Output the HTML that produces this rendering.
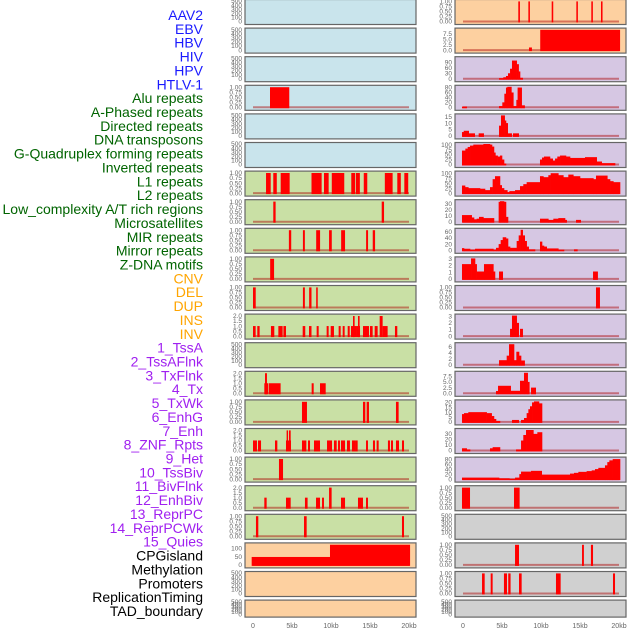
<!DOCTYPE html>
<html><head><meta charset="utf-8"><style>
html,body{margin:0;padding:0;background:#fff;}
svg{display:block;font-family:"Liberation Sans",sans-serif;}
</style></head><body>
<svg id="chart" width="630" height="630" viewBox="0 0 630 630" xmlns="http://www.w3.org/2000/svg"></svg>
<script>
// ---- data ----
const trackLabels = ["AAV2","EBV","HBV","HIV","HPV","HTLV-1","Alu repeats","A-Phased repeats","Directed repeats","DNA transposons","G-Quadruplex forming repeats","Inverted repeats","L1 repeats","L2 repeats","Low_complexity A/T rich regions","Microsatellites","MIR repeats","Mirror repeats","Z-DNA motifs","CNV","DEL","DUP","INS","INV","1_TssA","2_TssAFlnk","3_TxFlnk","4_Tx","5_TxWk","6_EnhG","7_Enh","8_ZNF_Rpts","9_Het","10_TssBiv","11_BivFlnk","12_EnhBiv","13_ReprPC","14_ReprPCWk","15_Quies","CPGisland","Methylation","Promoters","ReplicationTiming","TAD_boundary"];
const labelGroups = ["virus","virus","virus","virus","virus","virus","rep","rep","rep","rep","rep","rep","rep","rep","rep","rep","rep","rep","rep","sv","sv","sv","sv","sv","cs","cs","cs","cs","cs","cs","cs","cs","cs","cs","cs","cs","cs","cs","cs","oth","oth","oth","oth","oth"];
const xTicks = [0,5,10,15,20];
const xTickLabels = ["0","5kb","10kb","15kb","20kb"];

// interval tracks: [start_kb, end_kb, value]
const barsA3 = [[2.18,4.65,1]];
const barsA6 = [[1.67,2.27,1],[2.6,3.05,1],[3.55,4.7,1],[7.5,8.8,1],[9.1,9.7,1],[10.1,11.7,1],[12.6,13.1,1],[13.2,13.7,1],[14.2,14.65,1],[16.9,17.9,1],[18.5,18.95,1],[19.4,19.9,1]];
const barsA7 = [[2.6,2.9,1],[16.5,16.8,1]];
const barsA8 = [[4.6,4.9,1],[6.4,6.65,1],[8.1,8.6,1],[9.75,10.1,1],[11.3,11.8,1],[14.5,14.75,1],[15.35,15.65,1]];
const barsA9 = [[2.2,2.7,1]];
const barsA10 = [[0,0.35,1],[6.4,6.65,1],[7.2,7.5,1],[8.1,8.3,1]];
const barsA11 = [[0,0.34,1],[0.55,0.85,1],[2.3,2.73,1],[3.25,3.8,1],[3.9,4.23,1],[6.37,6.7,1],[7.18,7.5,1],[8.16,8.42,1],[9.44,9.7,1],[9.96,10.38,1],[10.98,11.24,1],[11.5,11.75,1],[12.14,12.4,1],[12.56,13.33,1],[12.82,13.03,2],[13.33,13.72,1],[13.46,13.67,2],[14.1,14.87,1],[15,15.34,1],[15.6,15.98,1],[16.24,16.62,2],[16.62,17.26,1],[18.2,18.5,1]];
const barsA13 = [[1.45,1.97,1],[1.54,1.79,2],[2.05,3.54,1],[7.52,7.78,1],[8.59,9.32,1]];
const barsA14 = [[6.28,6.92,1],[14.1,14.4,1],[14.57,14.87,1],[18.33,18.67,1]];
const barsA15 = [[0,0.51,1],[0.64,1.03,1],[2.82,3.12,1],[4.23,4.87,1],[4.31,4.49,2],[4.61,4.83,2],[6.28,6.84,1],[7.05,7.31,1],[7.82,8.59,1],[9.49,10.13,1],[10.38,10.73,1],[10.9,11.15,1],[11.28,11.8,1],[12.05,12.43,1],[12.69,13.2,1],[13.2,13.42,1],[14.49,14.74,1],[15.38,15.64,1],[15.85,16.11,1],[17.3,17.56,1],[17.69,17.95,1],[18.33,18.72,1],[19.1,19.36,1]];
const barsA16 = [[3.33,3.85,1]];
const barsA17 = [[1.45,1.75,1],[4.23,4.83,1],[6.66,7.0,1],[8.08,8.59,1],[8.85,9.1,1],[9.75,10.08,2],[11.28,11.8,1],[13.46,14.1,1],[14.49,14.74,1]];
const barsA18 = [[0.38,0.68,1],[6.54,6.88,1],[19.1,19.36,1]];
const barsB0 = [[7.09,7.3,1],[8.38,8.58,1],[11.37,11.57,1],[14.53,14.73,1],[16.45,16.65,1],[17.69,17.89,1]];
const barsB10 = [[17.05,17.56,1]];
const barsB17 = [[-0.13,0.9,1],[6.54,7.26,1]];
const barsB19 = [[6.67,7.18,1],[15.26,15.5,1],[16.4,16.67,1]];
const barsB20 = [[2.44,2.78,1],[3.55,3.8,1],[5.25,5.64,1],[5.8,6.1,1],[7.18,7.52,1],[11.92,12.52,1],[19.23,19.49,1]];

// step tracks: [start_kb, value] (value holds until next start)
const stepsA19 = [[-0.17,48],[9.87,122],[20.1,0]];
const stepsB1 = [[8.46,1.2],[8.8,0],[9.9,9.3],[20.1,0]];
const stepsB2 = [[4.62,3],[5.17,8],[5.51,15],[5.77,30],[6.03,55],[6.28,100],[6.88,80],[7.13,40],[7.31,5],[7.65,0]];
const stepsB3 = [[-0.13,3],[0.47,0],[4.62,5],[5.04,20],[5.3,55],[5.51,80],[5.68,85],[6.2,60],[6.45,5],[6.84,30],[7.0,80],[7.52,8],[7.9,0]];
const stepsB4 = [[-0.13,3],[0.09,4],[0.73,2],[1.5,0],[2.01,2],[2.65,0],[4.62,8],[4.87,17],[5.34,12],[5.51,10],[5.73,2],[6.24,0],[6.41,2],[7.14,0]];
const stepsB5 = [[-0.13,70],[0.3,80],[0.6,88],[0.9,95],[1.32,100],[2.61,105],[3.46,100],[3.72,90],[3.97,60],[4.15,45],[4.44,40],[4.74,45],[5.0,25],[5.26,5],[5.51,0],[9.87,25],[10.13,35],[10.38,40],[11.15,30],[11.5,20],[11.8,30],[12.09,40],[12.44,45],[13.2,40],[13.72,33],[15.64,37],[17.14,15],[17.78,7],[19.49,0]];
const stepsB6 = [[-0.13,38],[0.26,30],[0.68,25],[2.18,22],[2.82,15],[3.46,30],[3.8,70],[4.1,85],[4.74,40],[4.96,25],[5.26,15],[5.68,5],[5.94,10],[6.67,15],[7.31,35],[7.73,45],[8.16,55],[9.87,85],[10.3,80],[10.94,90],[11.24,100],[12.22,90],[12.86,80],[13.5,93],[14.14,85],[15.0,75],[16.71,70],[17.05,88],[18.5,70],[18.85,60],[19.27,55],[20.13,0]];
const stepsB7 = [[-0.13,11],[1.11,7],[1.41,4],[1.75,5],[2.05,8],[2.61,6],[3.97,0],[4.57,33],[4.74,37],[5.26,33],[5.51,8],[5.77,0],[9.87,5],[10.94,3],[11.58,5],[12.22,6],[13.08,3],[13.29,0],[14.49,3],[15.09,0]];
const stepsB8 = [[-0.13,7],[0.13,5],[0.9,2],[1.54,5],[3.89,2],[4.23,8],[4.57,20],[4.83,33],[5.09,42],[5.51,38],[5.77,12],[6.03,8],[6.88,30],[7.14,48],[7.39,68],[7.65,48],[7.91,30],[8.16,12],[8.42,3],[9.23,0],[9.87,28],[10.13,15],[10.38,12],[10.73,6],[12.22,2],[12.95,0],[14.23,3],[14.66,0]];
const stepsB9 = [[-0.13,2.2],[1.03,3.1],[1.54,2.2],[1.75,1.1],[2.69,2.2],[3.89,1.1],[4.1,0],[4.62,1.1],[5.09,0],[16.67,1.1],[17.26,0]];
const stepsB11 = [[6.03,1.1],[6.28,3.2],[6.88,2],[7.14,0],[7.31,1.1],[7.65,0]];
const stepsB12 = [[4.62,1.5],[5.6,3],[5.9,7],[6.54,1.5],[6.84,4.3],[7.18,3],[7.44,1.4],[7.9,0]];
const stepsB13 = [[4.23,1],[4.49,3.3],[6.11,1.1],[7.31,5.5],[7.82,9],[8.29,5],[8.5,0],[8.72,2.5],[9.32,0]];
const stepsB14 = [[-0.13,8],[0.13,9],[0.68,10],[3.03,9],[3.67,6],[3.97,3],[4.23,1],[4.74,0],[6.28,2],[7.14,0],[7.44,2],[7.82,4],[8.16,9],[8.38,13],[8.59,16],[8.85,20],[9.1,21],[9.74,19],[10.13,0]];
const stepsB15 = [[-0.13,4],[0.47,2],[0.9,0],[3.46,4],[3.8,6],[4.74,0],[6.8,2],[7.44,18],[7.73,28],[8.08,37],[9.02,30],[9.53,33],[10.13,0]];
const stepsB16 = [[-0.13,6],[4.62,3],[5.94,1],[6.67,6],[7.22,20],[7.44,30],[8.72,33],[10.09,18],[13.72,22],[14.23,25],[14.79,29],[15.85,32],[16.5,35],[16.92,40],[17.35,45],[18.2,55],[18.5,68],[18.76,75],[19.19,80],[20.13,0]];

// y-axis ticks
const ticks500 = [0,100,200,300,400,500];
const ticks1 = [0,0.25,0.5,0.75,1];
const ticks2 = [0,0.5,1,1.5,2];

const BLUE="#c9e4ec", GREEN="#c9e0a5", ORANGE="#fdd0a0", PURPLE="#d6c7e3", GREY="#d0d0d0";
const colA = [
 {bg:BLUE},{bg:BLUE},{bg:BLUE},{bg:BLUE,bars:barsA3,ymax:1.02,ticks:ticks1,dec:2},{bg:BLUE},{bg:BLUE},
 {bg:GREEN,bars:barsA6,ymax:1.02,ticks:ticks1,dec:2},{bg:GREEN,bars:barsA7,ymax:1.02,ticks:ticks1,dec:2},
 {bg:GREEN,bars:barsA8,ymax:1.02,ticks:ticks1,dec:2},{bg:GREEN,bars:barsA9,ymax:1.02,ticks:ticks1,dec:2},
 {bg:GREEN,bars:barsA10,ymax:1.02,ticks:ticks1,dec:2},{bg:GREEN,bars:barsA11,ymax:2.04,ticks:ticks2,dec:1},
 {bg:GREEN},{bg:GREEN,bars:barsA13,ymax:2.04,ticks:ticks2,dec:1},{bg:GREEN,bars:barsA14,ymax:1.02,ticks:ticks1,dec:2},
 {bg:GREEN,bars:barsA15,ymax:2.04,ticks:ticks2,dec:1},{bg:GREEN,bars:barsA16,ymax:1.02,ticks:ticks1,dec:2},
 {bg:GREEN,bars:barsA17,ymax:2.04,ticks:ticks2,dec:1},{bg:GREEN,bars:barsA18,ymax:1.02,ticks:ticks1,dec:2},
 {bg:ORANGE,steps:stepsA19,ymax:124,ticks:[0,50,100],dec:0},{bg:ORANGE},{bg:ORANGE}
];
const colB = [
 {bg:ORANGE,bars:barsB0,ymax:1.02,ticks:ticks1,dec:2},{bg:ORANGE,steps:stepsB1,ymax:9.4,ticks:[0,2.5,5,7.5],dec:1},
 {bg:PURPLE,steps:stepsB2,ymax:113,ticks:[0,30,60,90],dec:0},{bg:PURPLE,steps:stepsB3,ymax:83,ticks:[0,20,40,60,80],dec:0},
 {bg:PURPLE,steps:stepsB4,ymax:16,ticks:[0,5,10,15],dec:0},{bg:PURPLE,steps:stepsB5,ymax:103,ticks:[0,25,50,75,100],dec:0},
 {bg:PURPLE,steps:stepsB6,ymax:103,ticks:[0,25,50,75,100],dec:0},{bg:PURPLE,steps:stepsB7,ymax:34,ticks:[0,10,20,30],dec:0},
 {bg:PURPLE,steps:stepsB8,ymax:66,ticks:[0,20,40,60],dec:0},{bg:PURPLE,steps:stepsB9,ymax:3.05,ticks:[0,1,2,3],dec:0},
 {bg:PURPLE,bars:barsB10,ymax:1.02,ticks:ticks1,dec:2},{bg:PURPLE,steps:stepsB11,ymax:3.1,ticks:[0,1,2,3],dec:0},
 {bg:PURPLE,steps:stepsB12,ymax:6.8,ticks:[0,2,4,6],dec:0},{bg:PURPLE,steps:stepsB13,ymax:9,ticks:[0,2.5,5,7.5],dec:1},
 {bg:PURPLE,steps:stepsB14,ymax:21,ticks:[0,5,10,15,20],dec:0},{bg:PURPLE,steps:stepsB15,ymax:37,ticks:[0,10,20,30],dec:0},
 {bg:PURPLE,steps:stepsB16,ymax:82,ticks:[0,20,40,60,80],dec:0},
 {bg:GREY,bars:barsB17,ymax:1.02,ticks:ticks1,dec:2},{bg:GREY},{bg:GREY,bars:barsB19,ymax:1.02,ticks:ticks1,dec:2},
 {bg:GREY,bars:barsB20,ymax:1.02,ticks:ticks1,dec:2},{bg:GREY}
];

// ---- drawing ----
const NS="http://www.w3.org/2000/svg";
const svg=document.getElementById("chart");
function mk(tag,attrs,parent){const e=document.createElementNS(NS,tag);for(const k in attrs)e.setAttribute(k,attrs[k]);(parent||svg).appendChild(e);return e;}
const groupColor={virus:"#1a1aff",rep:"#006400",sv:"#ffa500",cs:"#a020f0",oth:"#000"};

trackLabels.forEach((t,i)=>{
  const el=mk("text",{x:203,y:15+i*13.86+5,"text-anchor":"end","font-size":"14",fill:groupColor[labelGroups[i]]});
  el.textContent=t;
  
  
});

function fmt(v,d){return v.toFixed(d);}
function drawCol(col,px0,colName){
  const x0=px0+8, kbw=7.8;
  const xs=kb=>x0+kb*kbw;
  col.forEach((p,i)=>{
    const top=i*28.6-0.5, h=(i===21)?17:25, bot=top+h;
    const g=mk("g",{});
    
    
    const r=mk("rect",{x:px0,y:top,width:171,height:h,fill:p.bg,stroke:"#666","stroke-width":1.2},g);
    
    
    const ymax=p.ymax||500, ticks=p.ticks||ticks500, dec=p.dec||0;
    const y0=bot-3, yt=top+1.5;
    const ys=v=>y0-(Math.min(v,ymax)/ymax)*(y0-yt);
    ticks.forEach(tv=>{
      const tl=mk("text",{x:px0-3,y:ys(tv)+2.2,"text-anchor":"end","font-size":"6.5",fill:"#666"},g);
      tl.textContent=fmt(tv,dec);
      
      
    });
    if(p.bars||p.steps){
      const bl=mk("line",{x1:xs(0),x2:xs(20),y1:y0,y2:y0,stroke:"rgba(170,0,0,0.45)","stroke-width":2},g);
      
      
    }
    if(p.bars){
      p.bars.forEach(b=>{
        const e=mk("rect",{x:xs(b[0]),y:ys(b[2]),width:Math.max(1.2,xs(b[1])-xs(b[0])),height:y0-ys(b[2])+1,fill:"#ff0000"},g);
        
        
      });
    }
    if(p.steps){
      const s=p.steps;
      for(let k=0;k<s.length-1;k++){
        if(s[k][1]<=0)continue;
        const e=mk("rect",{x:xs(s[k][0]),y:ys(s[k][1]),width:xs(s[k+1][0])-xs(s[k][0])+0.3,height:y0-ys(s[k][1])+1,fill:"#ff0000"},g);
        
        
      }
    }
  });
  xTicks.forEach((kb,j)=>{
    const t=mk("text",{x:xs(kb),y:628,"text-anchor":"middle","font-size":"7",fill:"#666"});
    t.textContent=xTickLabels[j];
    
    
  });
}
drawCol(colA,245,"left");
drawCol(colB,455,"right");
</script>
</body></html>
